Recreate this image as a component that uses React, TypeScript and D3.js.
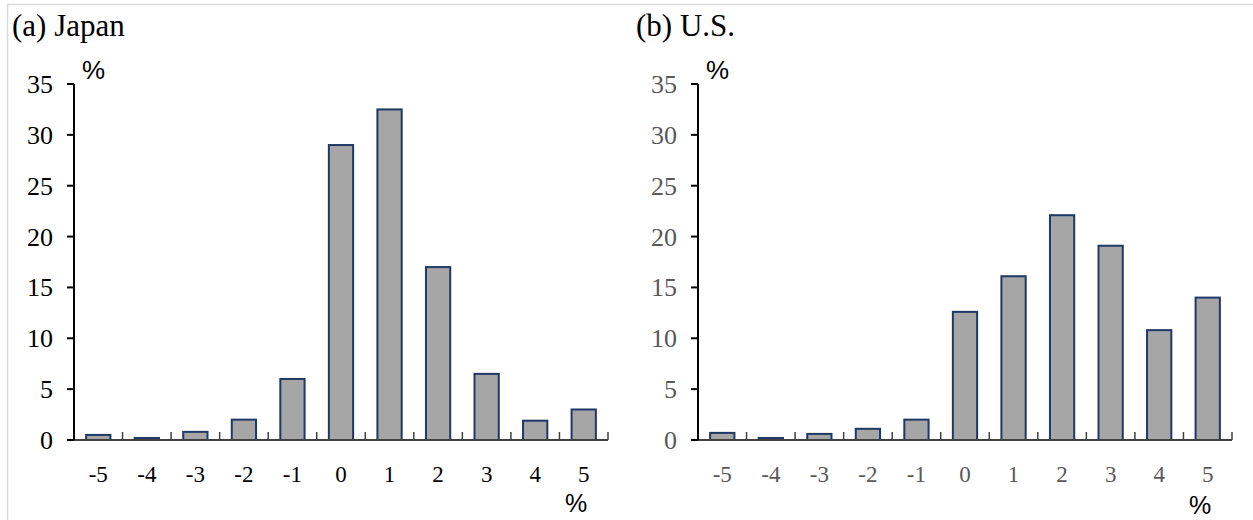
import React from "react";
import * as d3 from "d3";

const categories = ["-5", "-4", "-3", "-2", "-1", "0", "1", "2", "3", "4", "5"];
const japanValues = [0.5, 0.2, 0.8, 2.0, 6.0, 29.0, 32.5, 17.0, 6.5, 1.9, 3.0];
const usValues = [0.7, 0.2, 0.6, 1.1, 2.0, 12.6, 16.1, 22.1, 19.1, 10.8, 14.0];
const yTicks = [0, 5, 10, 15, 20, 25, 30, 35];
const panelTitles = ["(a) Japan", "(b) U.S."];

const SERIF = "'Liberation Serif', 'Times New Roman', serif";
const SANS = "'Liberation Sans', Arial, sans-serif";

type PanelProps = {
  values: number[];
  x0: number;
  x1: number;
  title: string;
  titleX: number;
  labelColor: string;
  bottomPctX: number;
  bottomPctY: number;
};

function Panel({ values, x0, x1, title, titleX, labelColor, bottomPctX, bottomPctY }: PanelProps) {
  const yTop = 84;
  const yBottom = 440;
  const x = d3.scaleBand<string>().domain(categories).range([x0, x1]).paddingInner(0.5).paddingOuter(0.25);
  const y = d3.scaleLinear().domain([0, 35]).range([yBottom, yTop]);
  const step = (x1 - x0) / categories.length;
  const boundaries = d3.range(1, categories.length + 1).map((i) => x0 + i * step);
  return (
    <g>
      <text x={titleX} y={36} fontFamily={SERIF} fontSize={31} fill="#000">
        {title}
      </text>
      <text x={x0 + 8} y={79} fontFamily={SANS} fontSize={26} fill="#000">
        %
      </text>
      {/* bars */}
      {values.map((v, i) => (
        <rect
          key={i}
          x={x(categories[i])!}
          y={y(v)}
          width={x.bandwidth()}
          height={yBottom - y(v)}
          fill="#a6a6a6"
          stroke="#1f3864"
          strokeWidth={2}
        />
      ))}
      {/* x axis */}
      <line x1={x0 - 7} x2={x1} y1={yBottom} y2={yBottom} stroke="#404040" strokeWidth={2} />
      {boundaries.map((bx, i) => (
        <line key={i} x1={bx} x2={bx} y1={yBottom} y2={yBottom - 8} stroke="#404040" strokeWidth={1.5} />
      ))}
      {categories.map((c) => (
        <text
          key={c}
          x={x(c)! + x.bandwidth() / 2}
          y={482}
          textAnchor="middle"
          fontFamily={SERIF}
          fontSize={23}
          fill={labelColor}
        >
          {c}
        </text>
      ))}
      {/* y axis */}
      <line x1={x0} x2={x0} y1={yBottom} y2={yTop} stroke="#000" strokeWidth={2} />
      {yTicks.map((t) => (
        <g key={t}>
          <line x1={x0 - 7} x2={x0} y1={y(t)} y2={y(t)} stroke="#000" strokeWidth={2} />
          <text x={x0 - 21} y={y(t) + 9} textAnchor="end" fontFamily={SERIF} fontSize={26} fill={labelColor}>
            {t}
          </text>
        </g>
      ))}
      <text x={bottomPctX} y={bottomPctY} fontFamily={SANS} fontSize={25} fill="#000">
        %
      </text>
    </g>
  );
}

export default function App() {
  return (
    <svg width={1253} height={520} style={{ position: "absolute", left: 0, top: 0, background: "#fff" }}>
      <rect x={0} y={0} width={1253} height={520} fill="#fff" />
      <line x1={7} x2={1253} y1={4.5} y2={4.5} stroke="#d9d9d9" strokeWidth={1.5} />
      <line x1={7.5} x2={7.5} y1={4} y2={520} stroke="#d9d9d9" strokeWidth={1.5} />
      <Panel
        values={japanValues}
        x0={74}
        x1={608}
        title={panelTitles[0]}
        titleX={12}
        labelColor="#000"
        bottomPctX={565}
        bottomPctY={512}
      />
      <Panel
        values={usValues}
        x0={698}
        x1={1232}
        title={panelTitles[1]}
        titleX={636}
        labelColor="#595959"
        bottomPctX={1189}
        bottomPctY={514}
      />
    </svg>
  );
}
